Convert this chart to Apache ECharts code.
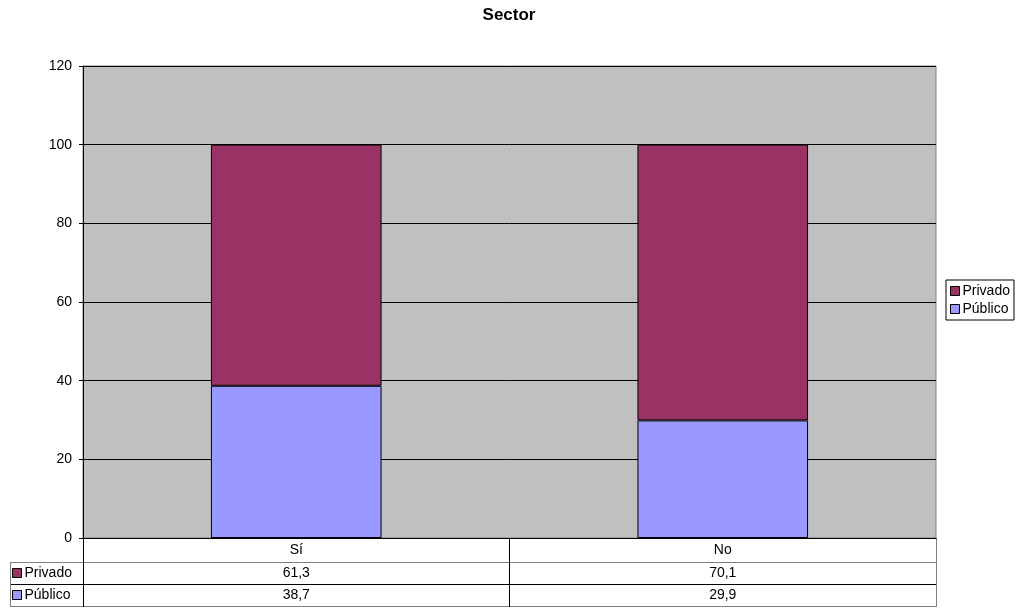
<!DOCTYPE html>
<html><head><meta charset="utf-8">
<script src="https://cdn.jsdelivr.net/npm/echarts@6/dist/echarts.min.js"></script>
<style>html,body{margin:0;padding:0;background:#fff}#c{width:1018px;height:608px}</style>
</head><body><div id="c"></div>
<script>
const categories = ['Sí', 'No'];
const privado = [61.3, 70.1];
const publico = [38.7, 29.9];
const seriesNames = ['Privado', 'Público'];
const yTicks = [0, 20, 40, 60, 80, 100, 120];

const FONT = 'Liberation Sans, Arial, sans-serif';
const FS = 14;
const colors = { 'Privado': '#993366', 'Público': '#9999FF' };
const fmt = v => v.toFixed(1).replace('.', ',');

const G = { left: 83, right: 936, top: 66, bottom: 538 };
const chart = echarts.init(document.getElementById('c'));

function valueAxis(idx, arr) {
  return {
    type: 'category', data: categories, position: 'bottom', offset: 22 * idx,
    axisLine: { show: false }, axisTick: { show: false },
    axisLabel: { fontFamily: FONT, fontSize: FS, color: '#000', margin: 6,
      formatter: (v, i) => fmt(arr[i]) }
  };
}

chart.setOption({
  animation: false,
  title: { text: 'Sector', left: 'center', top: 2,
    textStyle: { fontFamily: FONT, fontSize: 17, fontWeight: 'bold', color: '#000' } },
  grid: { left: G.left, right: 1018 - G.right, top: G.top, bottom: 608 - G.bottom,
    show: true, backgroundColor: '#C0C0C0', borderColor: '#808080', borderWidth: 1 },
  legend: [{
    data: seriesNames, orient: 'vertical', left: 946, top: 280,
    borderColor: '#000', borderWidth: 1, padding: [4, 4, 4, 4], itemGap: 4,
    itemWidth: 9, itemHeight: 9, icon: 'rect',
    itemStyle: { borderColor: '#000', borderWidth: 1 },
    textStyle: { fontFamily: FONT, fontSize: FS, color: '#000', padding: [0, 0, 0, -2] },
    selectedMode: false
  }, {
    data: seriesNames, orient: 'vertical', left: 12, top: 566,
    padding: 0, itemGap: 8, itemWidth: 9, itemHeight: 9, icon: 'rect',
    itemStyle: { borderColor: '#000', borderWidth: 1 },
    textStyle: { fontFamily: FONT, fontSize: FS, color: '#000', padding: [0, 0, 0, -2] },
    selectedMode: false
  }],
  xAxis: [{
    type: 'category', data: categories, position: 'bottom',
    axisLine: { lineStyle: { color: '#000', width: 1 } },
    axisTick: { show: false },
    axisLabel: { fontFamily: FONT, fontSize: FS, color: '#000', margin: 5 }
  }, valueAxis(1, privado), valueAxis(2, publico)],
  yAxis: {
    type: 'value', min: 0, max: 120, interval: 20,
    axisLine: { show: true, lineStyle: { color: '#000' } },
    axisTick: { show: true, length: 4, lineStyle: { color: '#000' } },
    axisLabel: { fontFamily: FONT, fontSize: FS, color: '#000', margin: 11,
      formatter: v => yTicks.includes(v) ? String(v) : '' },
    splitLine: { show: true, lineStyle: { color: '#000', width: 1 } }
  },
  series: [{
    name: 'Público', type: 'bar', stack: 's', data: publico, barWidth: '40%',
    itemStyle: { color: colors['Público'], borderColor: '#000', borderWidth: 1 }
  }, {
    name: 'Privado', type: 'bar', stack: 's', data: privado, barWidth: '40%',
    itemStyle: { color: colors['Privado'], borderColor: '#000', borderWidth: 1 }
  }],
  graphic: [
    { type: 'line', shape: { x1: 10, y1: 562.5, x2: G.right, y2: 562.5 }, style: { stroke: '#808080', lineWidth: 1 } },
    { type: 'line', shape: { x1: 10, y1: 584.5, x2: G.right, y2: 584.5 }, style: { stroke: '#000', lineWidth: 1 } },
    { type: 'line', shape: { x1: 10, y1: 606.5, x2: G.right, y2: 606.5 }, style: { stroke: '#808080', lineWidth: 1 } },
    { type: 'line', shape: { x1: 10.5, y1: 562, x2: 10.5, y2: 607 }, style: { stroke: '#808080', lineWidth: 1 } },
    { type: 'line', shape: { x1: G.left + 0.5, y1: G.bottom, x2: G.left + 0.5, y2: 607 }, style: { stroke: '#000', lineWidth: 1 } },
    { type: 'line', shape: { x1: 509.5, y1: G.bottom, x2: 509.5, y2: 607 }, style: { stroke: '#000', lineWidth: 1 } },
    { type: 'line', shape: { x1: G.right + 0.5, y1: G.bottom, x2: G.right + 0.5, y2: 607 }, style: { stroke: '#808080', lineWidth: 1 } }
  ]
});
</script></body></html>
